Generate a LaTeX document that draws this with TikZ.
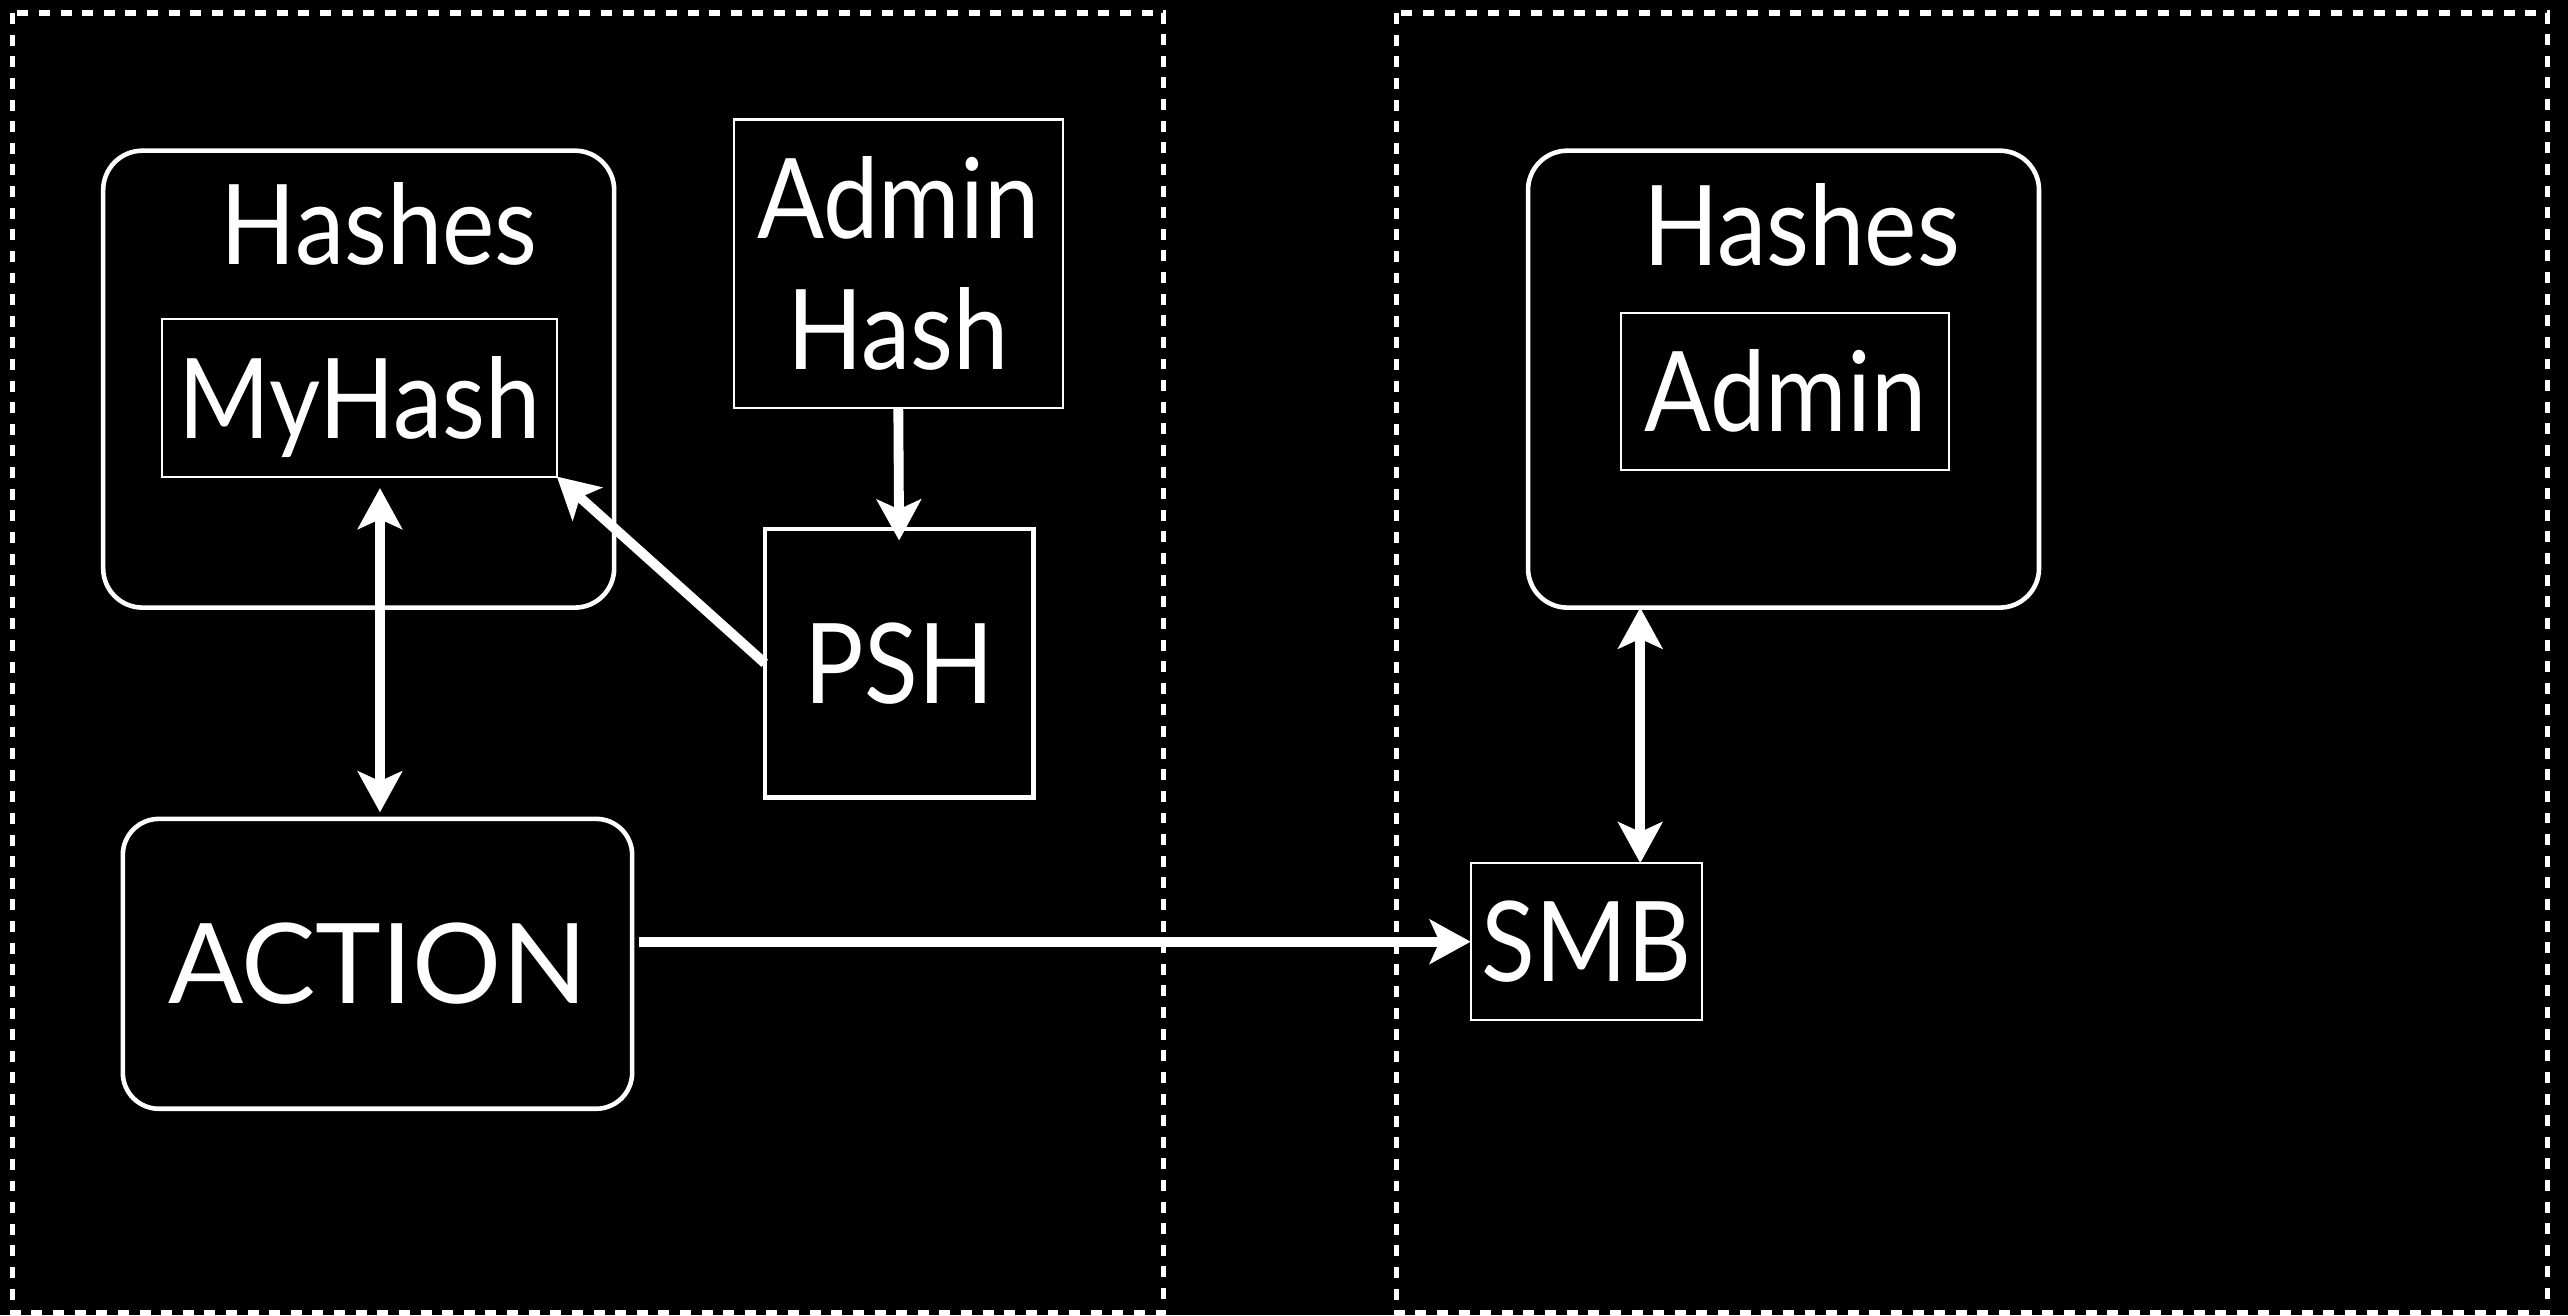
\documentclass[tikz,border=0pt]{standalone}
\usepackage{fontspec}
\setmainfont{Lato}
\newfontfamily\narrowlato[FakeStretch=0.89]{Lato}
\usetikzlibrary{arrows.meta}
\begin{document}
\begin{tikzpicture}[x=1pt,y=-1pt,
  every node/.style={text=white, inner sep=0pt, outer sep=0pt},
  big/.style={font=\fontsize{68}{80}\selectfont},
  bignarrow/.style={font=\narrowlato\fontsize{68}{80}\selectfont},
  txt/.style={bignarrow, text height=49pt, text depth=0pt},
  zone/.style={draw=white, line width=3.2pt, dash pattern=on 6.7pt off 6.5pt},
  roundbox/.style={draw=white, line width=2.8pt, rounded corners=24pt},
  thinbox/.style={draw=white, line width=1.3pt},
  midbox/.style={draw=white, line width=2.6pt},
  arrowtip/.tip={Stealth[length=25pt,width=27pt,inset=6pt]},
  link/.style={draw=white, line width=6pt, -arrowtip},
  both/.style={draw=white, line width=6pt, arrowtip-arrowtip},
]
% canvas
\fill[black] (0,0) rectangle (1568,803);
\useasboundingbox (0,0) rectangle (1568,803);

% the two machines
\draw[zone] (7.5,8) rectangle (710.5,801.5);
\draw[zone] (852.5,8) rectangle (1555.5,801.5);

% left machine
\node[roundbox, minimum width=312pt, minimum height=279pt] (hashL) at (219,231.5) {};
\node[txt] (hashLt) at (231.5,137) {Hashes};
\node[thinbox, txt, minimum width=241pt, minimum height=96pt] (myhash) at (219.5,243) {MyHash};
\node[thinbox, bignarrow, align=center,
      minimum width=201pt, minimum height=176pt] (adminhash) at (548.5,161) {Admin\\Hash};
\node[midbox, txt, minimum width=164pt, minimum height=164pt] (psh) at (549,405) {PSH};
\node[roundbox, txt, big, rounded corners=22pt, minimum width=311pt, minimum height=177pt] (action) at (230.5,588.5) {ACTION};

% right machine
\node[roundbox, minimum width=312pt, minimum height=279pt] (hashR) at (1089,231.5) {};
\node[txt] (hashRt) at (1100,137.5) {Hashes};
\node[thinbox, txt, minimum width=200pt, minimum height=96pt] (admin) at (1090,239) {Admin};
\node[thinbox, txt, minimum width=141pt, minimum height=96pt] (smb) at (968.5,575) {SMB};

% connectors
\draw[link] (adminhash.south) -- ([yshift=-7pt]psh.north);
\draw[link] (psh.west) -- (myhash.south east);
\draw[both] ([xshift=12.5pt,yshift=-7pt]myhash.south) -- ([xshift=1.5pt,yshift=4pt]action.north);
\draw[link] ([xshift=4pt]action.east |- smb.west) -- (smb.west);
\draw[both] ([xshift=33pt]smb.north |- hashR.south) -- ([xshift=33pt]smb.north);
\end{tikzpicture}
\end{document}
